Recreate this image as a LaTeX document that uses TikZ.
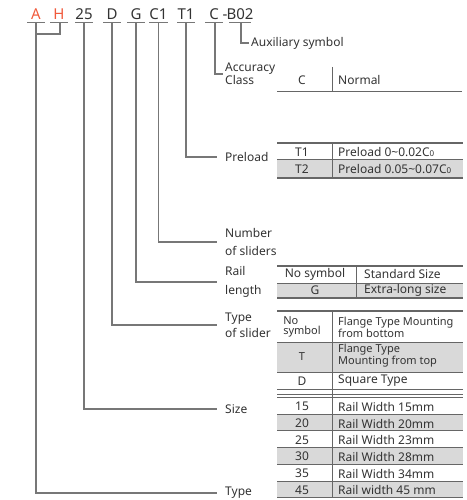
\documentclass[tikz,border=0pt]{standalone}
\usepackage{fontspec}
\setmainfont{Noto Sans}
\definecolor{txt}{HTML}{333333}
\definecolor{ln}{HTML}{777777}
\definecolor{rl}{HTML}{666666}
\definecolor{rowgray}{HTML}{D9D9D9}
\definecolor{codered}{HTML}{F05A3C}
\newcommand{\subz}{{\fontsize{8}{8}\selectfont 0}}
\tikzset{
  code/.style={font=\fontsize{15}{15}\selectfont, text=txt, inner sep=0, anchor=base},
  ulin/.style={draw=ln, line width=1.6},
  conn/.style={draw=ln, line width=1.6},
  lab/.style={font=\fontsize{12}{14}\selectfont, text=txt, inner sep=0, anchor=west, align=left},
  cell/.style={font=\fontsize{12}{12}\selectfont, text=txt, inner sep=0},
  lcell/.style={cell, anchor=west},
  rulel/.style={draw=rl, line width=0.8},
  ruleh/.style={draw=rl, line width=1.3},
}
\begin{document}
\begin{tikzpicture}[x=1pt,y=-1pt]
\useasboundingbox (0,0) rectangle (466,500);
\coordinate (u) at (0,22.7);
\coordinate (hj) at (0,34);
% codes
\node[code,text=codered] (cA) at (36,20) {A};
\node[code,text=codered] (cH) at (59,20) {H};
\node[code] (c25) at (84,20) {25};
\node[code] (cD) at (112,20) {D};
\node[code] (cG) at (136,20) {G};
\node[code] (cC1) at (158.5,20) {C1};
\node[code] (cT1) at (186,20) {T1};
\node[code] (cC) at (214,20) {C};
\node[code] (cdash) at (225,20) {-};
\node[code] (cB) at (240,20) {B02};
% underlines
\foreach \n/\w in {cA/9,cH/9,c25/9,cD/9,cG/9,cC1/9.5,cT1/9,cC/9,cB/11}{
  \draw[ulin] ([xshift=-\w pt]\n|-u) -- ([xshift=\w pt]\n|-u);
}
% labels
\node[lab] (auxL) at (251,43) {Auxiliary symbol};
\node[lab, font=\fontsize{12}{13}\selectfont] (accL) at (225,74) {Accuracy\\Class};
\node[lab] (preL) at (225,157) {Preload};
\node[lab, font=\fontsize{12}{18}\selectfont] (numL) at (225,242) {Number\\of sliders};
\node[lab, font=\fontsize{12}{19}\selectfont] (railL) at (225,282) {Rail\\length};
\node[lab, font=\fontsize{12}{16}\selectfont] (slideL) at (225,325) {Type\\of slider};
\node[lab] (sizeL) at (225,409) {Size};
\node[lab] (typeL) at (225,493) {Type};
% connectors
\draw[conn] (cA|-u) |- ([xshift=-8pt]typeL.west);
\draw[conn] ([xshift=1pt]cH|-u) |- (cA|-hj);
\draw[conn] (c25|-u) |- ([xshift=-8pt]sizeL.west);
\draw[conn] (cD|-u) |- ([xshift=-8pt]slideL.west);
\draw[conn] (cG|-u) |- ([xshift=-8pt]railL.west);
\draw[conn] (cC1|-u) |- ([xshift=-8pt]numL.west);
\draw[conn] (cT1|-u) |- ([xshift=-8pt]preL.west);
\draw[conn] ([xshift=1pt]cC|-u) |- ([xshift=-2pt]accL.west);
\draw[conn] ([xshift=1pt]cB|-u) |- ([xshift=-2pt]auxL.west);
% table: accuracy
\draw[rulel] (277,91) -- (462,91);
\draw[rulel] (332,67) -- (332,91);
\node[cell] (tC) at (302,80) {C};
\node[lcell] (tCn) at (338,80) {Normal};
% table: preload
\fill[rowgray] (277,159) rectangle (463,178);
\draw[ruleh] (277,143) -- (463,143);
\draw[rulel] (277,159) -- (463,159);
\draw[ruleh] (277,178) -- (463,178);
\draw[rulel] (332,143) -- (332,178);
\node[cell] (tT1) at (302,152) {T1};
\node[lcell] (tT1n) at (338,152) {Preload 0\textasciitilde 0.02C\subz};
\node[cell] (tT2) at (302,169) {T2};
\node[lcell] (tT2n) at (338,169) {Preload 0.05\textasciitilde 0.07C\subz};
% table: rail length
\fill[rowgray] (277,283) rectangle (463,298);
\draw[ruleh] (277,266) -- (463,266);
\draw[rulel] (277,283) -- (463,283);
\draw[ruleh] (277,298) -- (463,298);
\draw[rulel] (356,266) -- (356,298);
\node[cell] (tNs) at (315,274) {No symbol};
\node[lcell] (tStd) at (364,274) {Standard Size};
\node[cell] (tG) at (315,290.5) {G};
\node[lcell] (tExt) at (364,290.5) {Extra-long size};
% table: type of slider
\fill[rowgray] (277,342) rectangle (463,372);
\draw[ruleh] (277,311) -- (463,311);
\draw[rulel] (277,342) -- (463,342);
\draw[rulel] (277,372) -- (463,372);
\draw[rulel] (277,389.5) -- (463,389.5);
\node[cell, align=left, font=\fontsize{11}{10.5}\selectfont] (tNo) at (302,327) {No\\symbol};
\node[lcell, align=left, font=\fontsize{11}{10.5}\selectfont] (tFb) at (338,327) {Flange Type Mounting\\from bottom};
\node[cell, font=\fontsize{11}{11}\selectfont] (tT) at (302,356.5) {T};
\node[lcell, align=left, font=\fontsize{11}{10.5}\selectfont] (tFt) at (338,356) {Flange Type\\Mounting from top};
\node[cell] (tD) at (302,381) {D};
\node[lcell] (tSq) at (338,381) {Square Type};
% table: size
\foreach \k in {1,3,5}{
  \fill[rowgray] (277,{397+16.75*\k}) rectangle (463,{397+16.75*(\k+1)});
}
\draw[rulel] (277,394) -- (463,394);
\draw[rulel] (277,397) -- (463,397);
\foreach \k in {1,...,5}{
  \draw[draw=rl, line width=0.5] (277,{397+16.75*\k}) -- (463,{397+16.75*\k});
}
\draw[rulel] (277,497.5) -- (463,497.5);
\draw[rulel] (332,311) -- (332,497.5);
\node[cell] (s1) at (302,406.5) {15};   \node[lcell] (s1n) at (338,406.5) {Rail Width 15mm};
\node[cell] (s2) at (302,423.5) {20};   \node[lcell] (s2n) at (338,423.5) {Rail Width 20mm};
\node[cell] (s3) at (302,440) {25};     \node[lcell] (s3n) at (338,440) {Rail Width 23mm};
\node[cell] (s4) at (302,456.5) {30};   \node[lcell] (s4n) at (338,456.5) {Rail Width 28mm};
\node[cell] (s5) at (302,473.5) {35};   \node[lcell] (s5n) at (338,473.5) {Rail Width 34mm};
\node[cell] (s6) at (302,490) {45};     \node[lcell] (s6n) at (338,490) {Rail width 45 mm};
\end{tikzpicture}
\end{document}
